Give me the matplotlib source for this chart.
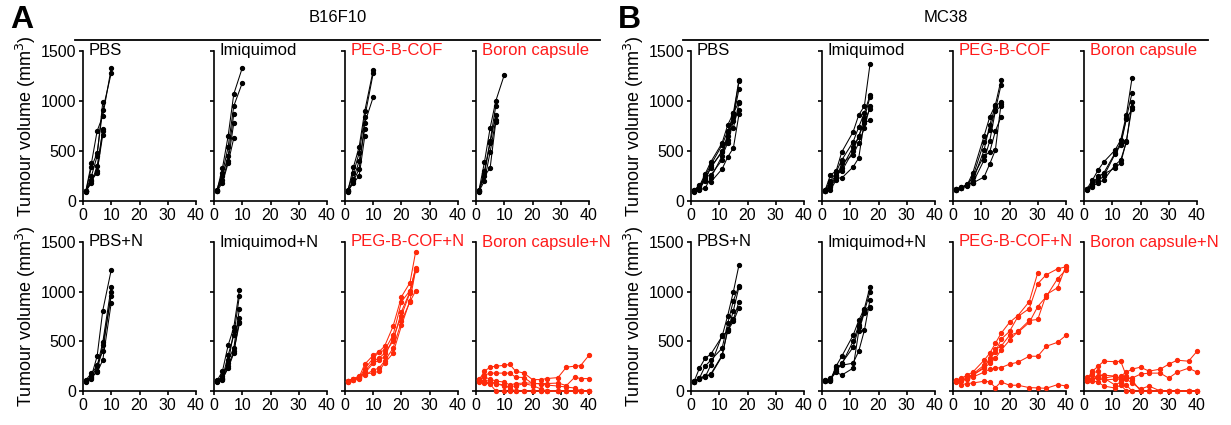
import matplotlib.pyplot as plt

plt.rcParams['font.family'] = ['Liberation Sans', 'DejaVu Sans']

# ---- data: tumour volume (mm3) of individual mice ----
# B16F10
b16_days = [1, 3, 5, 7, 10]
b16_days_imq_n = [1, 3, 5, 7, 9]
b16_days_cof_n = [1, 3, 5, 7, 10, 12, 14, 17, 20, 23, 25]
b16_days_long = [1, 3, 5, 7, 10, 12, 14, 17, 20, 23, 25, 29, 32, 35, 37, 40]

b16_pbs = [[100, 380, 700, 850, 1330], [95, 340, 480, 910, 1280],
           [100, 250, 450, 990], [90, 210, 280, 720],
           [100, 180, 350, 700], [95, 200, 300, 660]]
b16_imq = [[100, 330, 650, 1070, 1330], [110, 280, 540, 950, 1180],
           [95, 250, 450, 870], [105, 210, 400, 780], [100, 180, 380, 630]]
b16_cof = [[100, 340, 540, 900, 1310], [110, 280, 480, 840, 1280],
           [95, 200, 320, 780, 1040], [100, 180, 250, 650], [90, 220, 400, 720]]
b16_cap = [[100, 390, 730, 1000, 1260], [90, 280, 580, 860],
           [95, 200, 490, 810], [100, 250, 330, 790], [105, 300, 600, 950]]
b16_pbs_n = [[100, 150, 350, 810, 1220], [110, 180, 250, 490, 1050],
             [95, 130, 200, 460, 960], [105, 140, 190, 310, 890],
             [100, 120, 260, 400, 1000]]
b16_imq_n = [[100, 200, 460, 640, 1020], [110, 130, 360, 560, 960],
             [95, 110, 310, 430, 830], [105, 120, 230, 380, 730],
             [100, 150, 280, 600, 690], [105, 120, 250, 400, 680]]
b16_cof_n = [[100, 120, 140, 270, 360, 395, 450, 650, 950, 1090, 1400],
             [100, 115, 130, 225, 330, 390, 410, 560, 900, 1010, 1232],
             [95, 110, 135, 180, 280, 310, 345, 530, 760, 990, 1215],
             [105, 120, 140, 160, 210, 230, 300, 430, 700, 900, 1007],
             [100, 125, 150, 175, 180, 200, 280, 380, 660, 910, 1220],
             [95, 110, 125, 200, 300, 330, 380, 500, 800, 1000, 1240]]
b16_cap_n = [[107, 200, 240, 250, 258, 268, 200, 180, 115, 115, 125, 135, 240, 250, 255, 360],
             [125, 160, 180, 180, 180, 180, 140, 135, 75, 75, 75, 80, 55, 140, 125, 125],
             [115, 140, 120, 100, 90, 60, 75, 80, 80, 70, 60, 50, 40, 30, 0, 0],
             [90, 80, 70, 0, 0, 0, 0, 0, 0, 0, 0, 0, 0, 0, 0, 0],
             [100, 105, 100, 75, 60, 25, 0, 0, 0, 0, 0, 0, 0, 0, 0, 0],
             [110, 90, 80, 75, 50, 45, 50, 75, 55, 20, 0, 0, 0, 0, 0, 0]]

# MC38
mc_days = [1, 3, 5, 7, 11, 13, 15, 17]
mc_days_long = [1, 3, 5, 7, 11, 13, 15, 17, 20, 23, 27, 30, 33, 37, 40]

mc_pbs = [[100, 150, 270, 390, 580, 760, 880, 1210],
          [110, 130, 250, 360, 560, 700, 850, 1200],
          [95, 120, 210, 340, 490, 610, 840, 1120],
          [100, 140, 240, 260, 410, 690, 730, 980],
          [90, 110, 130, 230, 450, 580, 800, 910],
          [105, 160, 200, 190, 320, 440, 530, 870],
          [100, 120, 220, 330, 500, 650, 880, 990]]
mc_imq = [[100, 260, 300, 490, 690, 860, 950, 1370],
          [110, 200, 290, 410, 590, 740, 880, 1060],
          [95, 150, 250, 330, 540, 640, 830, 1040],
          [100, 110, 210, 380, 460, 580, 730, 950],
          [105, 140, 230, 230, 340, 430, 800, 920],
          [100, 180, 260, 300, 500, 650, 780, 810]]
mc_cof = [[110, 130, 160, 280, 650, 840, 960, 1210],
          [120, 140, 160, 240, 590, 710, 910, 1160],
          [115, 130, 150, 200, 510, 760, 950, 990],
          [110, 135, 165, 180, 410, 600, 900, 950],
          [120, 130, 155, 240, 450, 490, 700, 840],
          [110, 130, 160, 180, 240, 370, 510, 970]]
mc_cap = [[120, 210, 310, 390, 510, 610, 860, 1230],
          [115, 180, 240, 280, 480, 580, 830, 1080],
          [110, 150, 180, 210, 360, 410, 590, 990],
          [120, 140, 250, 270, 330, 380, 600, 940],
          [115, 160, 200, 250, 470, 560, 820, 920]]
mc_pbs_n = [[90, 230, 330, 370, 550, 760, 1000, 1270],
            [95, 130, 250, 310, 430, 680, 910, 1060],
            [100, 120, 140, 260, 560, 600, 810, 1050],
            [90, 130, 150, 160, 350, 620, 720, 900],
            [100, 125, 150, 170, 360, 610, 700, 840]]
mc_imq_n = [[110, 110, 250, 350, 560, 710, 830, 1050],
            [100, 130, 200, 280, 440, 640, 800, 1000],
            [110, 100, 240, 260, 280, 400, 610, 920],
            [105, 120, 190, 160, 230, 600, 790, 840],
            [100, 110, 220, 270, 500, 660, 820, 850]]
mc_cof_n = [[110, 130, 160, 190, 310, 380, 480, 580, 690, 760, 900, 1190],
            [100, 120, 140, 160, 240, 330, 390, 520, 600, 750, 830, 1080, 1170, 1230, 1250],
            [90, 110, 130, 170, 260, 300, 420, 450, 560, 590, 690, 850, 950, 1130, 1220],
            [100, 100, 120, 160, 230, 280, 330, 410, 510, 600, 710, 720, 970, 1040, 1260],
            [100, 110, 120, 140, 190, 220, 230, 235, 270, 290, 350, 350, 450, 490, 560],
            [100, 64, 75, 81, 98, 92, 34, 92, 58, 58, 34, 31, 27, 64, 51]]
mc_cap_n = [[100, 120, 130, 110, 120, 150, 190, 220, 240, 200, 220, 270, 310, 300, 400],
            [110, 120, 150, 160, 150, 120, 130, 130, 170, 180, 180, 130, 190, 230, 190],
            [120, 200, 250, 300, 295, 300, 150, 110, 0, 0, 0, 0, 0, 0, 0],
            [100, 180, 200, 130, 150, 100, 120, 80, 20, 50, 0, 0, 0, 0, 0],
            [140, 160, 130, 130, 60, 90, 60, 0, 0, 0, 0, 0, 0, 0, 0],
            [120, 100, 90, 50, 30, 60, 0, 0, 0, 0, 0, 0, 0, 0, 0]]

groups_top = ['PBS', 'Imiquimod', 'PEG-B-COF', 'Boron capsule']
groups_bottom = ['PBS+N', 'Imiquimod+N', 'PEG-B-COF+N', 'Boron capsule+N']

BLACK = '#000000'
RED = '#ff2a0a'
LABEL_RED = '#ff1a1a'

panels = {
    'A': dict(x0=83, title='B16F10',
              top=[(b16_days, b16_pbs), (b16_days, b16_imq), (b16_days, b16_cof), (b16_days, b16_cap)],
              bottom=[(b16_days, b16_pbs_n), (b16_days_imq_n, b16_imq_n),
                      (b16_days_cof_n, b16_cof_n), (b16_days_long, b16_cap_n)]),
    'B': dict(x0=691, title='MC38',
              top=[(mc_days, mc_pbs), (mc_days, mc_imq), (mc_days, mc_cof), (mc_days, mc_cap)],
              bottom=[(mc_days, mc_pbs_n), (mc_days, mc_imq_n),
                      (mc_days_long, mc_cof_n), (mc_days_long, mc_cap_n)]),
}

W, H = 1231, 425
fig = plt.figure(figsize=(W / 100, H / 100), dpi=100)

col_step = 131
ax_w = 113
rows = [(51, 201), (242, 391)]  # (top px, bottom px)


def draw(ax, days, lines, label, red_label, red_lines):
    col = RED if red_lines else BLACK
    for v in lines:
        ax.plot(days[:len(v)], v, '-o', color=col, lw=0.75, ms=2.8, clip_on=False, zorder=3)
    ax.set_xlim(0, 40)
    ax.set_ylim(0, 1500)
    ax.set_xticks([0, 10, 20, 30, 40])
    ax.set_yticks([0, 500, 1000, 1500])
    for s in ['top', 'right']:
        ax.spines[s].set_visible(False)
    for s in ['left', 'bottom']:
        ax.spines[s].set_linewidth(1.2)
    ax.tick_params(direction='out', length=3, width=1.2, labelsize=11.5, pad=2)
    ax.text(0.05, 1.0, label, transform=ax.transAxes, ha='left', va='center',
            fontsize=12, color=LABEL_RED if red_label else BLACK)


for key, p in panels.items():
    for r, (top_px, bot_px) in enumerate(rows):
        specs = p['top'] if r == 0 else p['bottom']
        names = groups_top if r == 0 else groups_bottom
        for c in range(4):
            left = (p['x0'] + c * col_step) / W
            bottom = 1 - bot_px / H
            height = (bot_px - top_px) / H
            ax = fig.add_axes([left, bottom, ax_w / W, height])
            days, lines = specs[c]
            draw(ax, days, lines, names[c], red_label=c >= 2, red_lines=(r == 1 and c >= 2))
            if c == 0:
                ax.set_ylabel('Tumour volume (mm$^3$)', fontsize=13, labelpad=2)
            else:
                ax.set_yticklabels([])

    # panel header
    lx0 = (p['x0'] - 8) / W
    lx1 = (p['x0'] - 8 + 525) / W
    fig.add_artist(plt.Line2D([lx0, lx1], [1 - 40 / H, 1 - 40 / H], color='black', lw=1.3))
    fig.text((lx0 + lx1) / 2, 1 - 18 / H, p['title'], ha='center', va='center', fontsize=12)
    fig.text((p['x0'] - 73) / W, 1 - 20 / H, key, ha='left', va='center',
             fontsize=23, fontweight='bold')

plt.savefig('out.png', dpi=100)
